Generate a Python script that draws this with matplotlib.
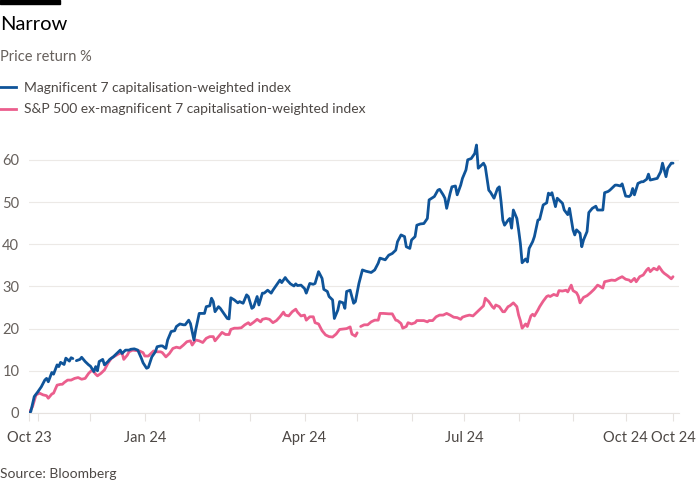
import matplotlib
matplotlib.use("Agg")
import matplotlib.pyplot as plt
import numpy as np
import pandas as pd
from matplotlib.lines import Line2D

# readings taken off the chart, days counted from the first session (27 Oct 2023)
start = pd.Timestamp("2023-10-27")
end = pd.Timestamp("2023-10-27") + pd.Timedelta(days=367)

blue_day = [0, 1, 3, 5, 7, 9, 10, 11, 13, 14, 16, 17, 18, 20, 21, 23, 24, 25, 26, 27,
            29, 30, 32, 34, 35, 37, 38, 39, 40, 42, 43, 45, 46, 48, 50, 52, 53, 55, 57, 58,
            60, 62, 64, 65, 67, 68, 70, 72, 73, 75, 76, 78, 79, 81, 83, 84, 86, 88, 89, 91,
            92, 94, 95, 97, 98, 100, 101, 103, 104, 105, 106, 108, 109, 111, 113, 114, 115, 117, 119, 120,
            122, 124, 125, 127, 128, 130, 131, 133, 134, 136, 138, 139, 141, 143, 144, 146, 147, 149, 151, 152,
            153, 155, 157, 158, 160, 162, 163, 165, 167, 168, 170, 171, 173, 174, 176, 177, 179, 180, 181, 183,
            185, 186, 188, 190, 192, 195, 197, 199, 200, 203, 205, 207, 209, 210, 212, 214, 215, 217, 218, 220,
            221, 223, 225, 227, 228, 231, 233, 234, 236, 237, 238, 240, 241, 243, 244, 246, 247, 249, 250, 252,
            254, 255, 256, 258, 259, 260, 262, 263, 265, 267, 268, 269, 270, 271, 273, 274, 275, 276, 278, 279,
            280, 281, 283, 284, 285, 287, 288, 290, 291, 293, 295, 296, 297, 298, 300, 301, 303, 304, 305, 307,
            308, 310, 311, 312, 314, 315, 316, 318, 319, 321, 323, 324, 325, 327, 328, 330, 331, 333, 334, 335,
            337, 338, 340, 342, 343, 344, 345, 347, 349, 350, 352, 353, 354, 356, 358, 360, 361, 363, 364, 366,
            367]
blue_val = [0.0, 0.3, 3.9, 5.0, 6.2, 7.8, 8.2, 7.4, 9.6, 9.2, 11.4, 11.0, 12.0, 11.5, 13.0, 12.3, 13.1, 12.9, np.nan, 12.4,
            12.7, 13.2, 12.2, 11.4, 11.1, 9.8, 11.0, 10.0, 12.2, 12.7, 11.4, 12.2, 12.7, 13.3, 14.1, 14.9, 14.1, 14.9, 14.9, 15.1,
            15.2, 14.9, 13.0, 11.9, 10.6, 10.8, 13.3, 14.5, 15.7, 15.9, 15.9, 15.3, 17.3, 19.3, 19.5, 20.5, 21.1, 20.9, 20.9, 22.0,
            21.2, 17.3, 19.7, 23.6, 23.6, 23.6, 25.2, 25.4, 27.2, 26.4, 24.0, 25.2, 24.8, 23.6, 22.4, 22.3, 27.3, 26.8, 26.1, 26.4,
            26.0, 28.0, 27.6, 24.8, 25.1, 27.6, 25.6, 28.4, 28.4, 29.1, 28.4, 29.1, 30.3, 31.5, 30.9, 32.1, 31.5, 30.6, 30.1, 30.6,
            30.2, 30.3, 29.5, 28.4, 30.7, 30.5, 30.7, 33.5, 31.9, 29.3, 28.8, 27.6, 26.8, 22.4, 24.4, 26.4, 26.1, 24.8, 28.8, 29.1,
            26.0, 26.4, 30.7, 33.9, 33.6, 33.3, 33.9, 35.5, 36.7, 36.3, 37.4, 37.8, 38.6, 40.6, 42.2, 41.8, 39.4, 39.0, 41.0, 41.8,
            44.5, 44.8, 44.9, 46.1, 50.5, 51.3, 52.8, 53.0, 51.7, 50.9, 48.5, 52.1, 53.6, 53.8, 51.7, 54.0, 55.6, 57.6, 60.0, 60.3,
            61.5, 63.5, 58.0, 58.8, 59.2, 58.4, 52.8, 52.3, 50.9, 53.2, 53.6, 50.1, 45.7, 44.5, 45.7, 46.1, 43.8, 48.1, 46.1, 43.4,
            40.2, 35.6, 36.5, 35.8, 39.0, 40.6, 41.8, 45.7, 45.9, 49.3, 49.8, 52.1, 51.7, 52.2, 48.9, 50.9, 50.1, 49.7, 48.1, 47.0,
            48.5, 43.4, 42.2, 43.4, 42.6, 39.4, 41.0, 43.0, 47.5, 48.5, 49.0, 48.1, 48.1, 48.1, 52.2, 52.5, 52.8, 53.6, 54.0, 54.0,
            53.8, 54.3, 51.4, 51.3, 51.7, 53.2, 51.7, 54.4, 54.8, 54.8, 55.4, 56.6, 55.2, 55.4, 55.6, 57.2, 59.2, 56.0, 58.0, 59.2,
            59.2]

pink_day = [0, 2, 4, 6, 8, 10, 11, 13, 14, 16, 18, 19, 20, 22, 24, 26, 28, 30, 32, 34,
            36, 38, 39, 41, 43, 45, 47, 49, 51, 53, 54, 56, 57, 59, 61, 63, 65, 66, 68, 70,
            71, 73, 75, 76, 78, 80, 82, 84, 86, 88, 90, 92, 93, 95, 97, 99, 101, 103, 105, 106,
            108, 110, 112, 114, 115, 117, 119, 121, 123, 125, 126, 128, 130, 132, 133, 135, 137, 139, 141, 143,
            145, 146, 148, 150, 152, 153, 155, 157, 158, 160, 162, 163, 165, 167, 169, 171, 173, 175, 177, 179,
            181, 183, 184, 186, 187, 188, 189, 191, 193, 195, 197, 199, 200, 202, 205, 207, 209, 210, 212, 213,
            215, 216, 218, 220, 221, 223, 225, 227, 228, 230, 232, 234, 236, 238, 240, 242, 244, 246, 247, 249,
            251, 253, 255, 257, 259, 260, 262, 264, 265, 266, 268, 270, 271, 273, 274, 276, 278, 279, 280, 281,
            283, 284, 286, 287, 288, 290, 291, 293, 295, 296, 297, 299, 301, 302, 304, 306, 307, 309, 310, 312,
            313, 314, 316, 318, 320, 322, 324, 325, 327, 328, 330, 332, 334, 336, 338, 340, 342, 343, 345, 346,
            348, 350, 352, 353, 354, 356, 358, 359, 361, 362, 364, 366, 367]
pink_val = [0.0, 1.5, 4.3, 4.7, 4.3, 4.1, 3.5, 4.5, 4.7, 6.6, 6.8, 6.8, 7.2, 7.8, 7.8, 8.2, 8.4, 8.0, 8.2, 9.4,
            10.2, 9.2, 8.8, 9.4, 10.2, 11.8, 13.0, 13.5, 14.0, 14.3, 12.7, 13.7, 14.5, 14.9, 14.8, 14.7, 14.3, 13.5, 13.5, 14.3,
            14.7, 14.5, 14.5, 14.3, 13.3, 14.1, 15.3, 15.6, 15.4, 16.1, 16.9, 17.1, 16.1, 17.3, 17.1, 16.7, 17.7, 18.1, 18.1, 17.1,
            18.1, 19.1, 18.6, 18.6, 19.8, 20.1, 20.1, 20.2, 20.9, 21.4, 20.9, 21.5, 22.2, 21.6, 22.2, 22.4, 22.2, 21.4, 21.9, 22.8,
            23.9, 23.2, 23.0, 24.0, 24.6, 23.9, 23.0, 23.2, 22.0, 22.8, 22.8, 21.4, 21.1, 19.5, 18.5, 18.1, 18.0, 18.7, 19.8, 19.9,
            20.0, 20.4, 18.7, 18.2, 19.0, np.nan, 20.5, 20.9, 20.9, 21.6, 22.0, 22.0, 23.6, 23.6, 23.5, 23.5, 22.0, 21.9, 21.2, 20.1,
            20.5, 21.4, 21.1, 21.4, 21.9, 21.9, 21.9, 21.6, 21.9, 21.9, 22.8, 23.2, 23.2, 23.6, 23.2, 22.7, 22.6, 22.2, 22.7, 23.0,
            23.2, 23.0, 23.8, 24.6, 25.4, 27.2, 26.4, 25.2, 24.8, 25.6, 25.2, 24.0, 24.0, 25.2, 25.4, 26.1, 25.2, 23.2, 21.9, 20.1,
            21.1, 20.5, 23.0, 23.4, 23.0, 24.4, 25.2, 26.5, 27.6, 27.8, 27.6, 28.1, 27.8, 29.0, 28.9, 29.1, 28.7, 30.3, 29.0, 28.5,
            27.7, 26.1, 27.4, 27.8, 28.5, 29.3, 30.3, 30.1, 29.6, 31.1, 31.3, 31.5, 31.4, 31.9, 32.3, 31.7, 31.5, 31.1, 31.9, 31.1,
            32.3, 32.7, 33.9, 34.3, 33.5, 34.3, 33.9, 34.7, 33.5, 33.1, 32.5, 31.8, 32.3]

series_names = ["Magnificent 7 capitalisation-weighted index",
                "S&P 500 ex-magnificent 7 capitalisation-weighted index"]
series_colors = ["#0f5499", "#eb5e8d"]

y_ticks = [0, 10, 20, 30, 40, 50, 60]
major_dates = [start, pd.Timestamp("2024-01-01"), pd.Timestamp("2024-04-01"),
               pd.Timestamp("2024-07-01"), pd.Timestamp("2024-10-01"), end]
major_labels = ["Oct 23", "Jan 24", "Apr 24", "Jul 24", "Oct 24", "Oct 24"]
minor_dates = pd.to_datetime(["2023-11-01", "2023-12-01", "2024-02-01", "2024-03-01",
                              "2024-05-01", "2024-06-01", "2024-08-01", "2024-09-01"])

blue_dates = start + pd.to_timedelta(blue_day, unit="D")
pink_dates = start + pd.to_timedelta(pink_day, unit="D")

plt.rcParams['font.family'] = ['Lato', 'DejaVu Sans']

fig = plt.figure(figsize=(7, 5), dpi=100)
ax = fig.add_axes([29 / 700, 87 / 500, 650 / 700, 274.3 / 500])

ax.plot(pink_dates, pink_val, color=series_colors[1], lw=2, solid_capstyle='round', zorder=3)
ax.plot(blue_dates, blue_val, color=series_colors[0], lw=2, solid_capstyle='round', zorder=4)

ax.set_ylim(0, 65)
ax.set_xlim(start, start + pd.Timedelta(days=370.4))
ax.set_yticks(y_ticks)
ax.grid(axis='y', color='#ece9e6', lw=0.8)
ax.set_axisbelow(True)
for s in ['top', 'right', 'left']:
    ax.spines[s].set_visible(False)
ax.spines['bottom'].set_color('#e6e2df')
ax.spines['bottom'].set_linewidth(0.8)

ax.set_xticks(major_dates)
ax.set_xticklabels(major_labels)
ax.set_xticks(minor_dates, minor=True)
ax.tick_params(axis='x', which='both', length=6, width=0.8, color='#e6e2df',
               labelsize=10.5, labelcolor='#4d4845', pad=7)
ax.tick_params(axis='y', length=0, labelsize=10.5, labelcolor='#66605c', pad=7)

# header
fig.patches.append(plt.Rectangle((0, 496 / 500), 60 / 700, 4 / 500,
                                 transform=fig.transFigure, color='black'))
fig.text(0, 1 - 25 / 500, "Narrow", fontsize=14.5, color='black', va='center')
fig.text(0, 1 - 57 / 500, "Price return %", fontsize=10.5, color='#66605c', va='center')

handles = [Line2D([], [], color=c, lw=2) for c in series_colors]
fig.legend(handles, series_names, loc='upper left', bbox_to_anchor=(0, 1 - 82 / 500),
           frameon=False, fontsize=10, borderaxespad=0, borderpad=0,
           handlelength=1.15, handletextpad=0.6, labelspacing=0.68, labelcolor='#4d4845')

fig.text(0, 1 - 474 / 500, "Source: Bloomberg", fontsize=10, color='#4d4845', va='center')

fig.savefig("out.png", dpi=100)
